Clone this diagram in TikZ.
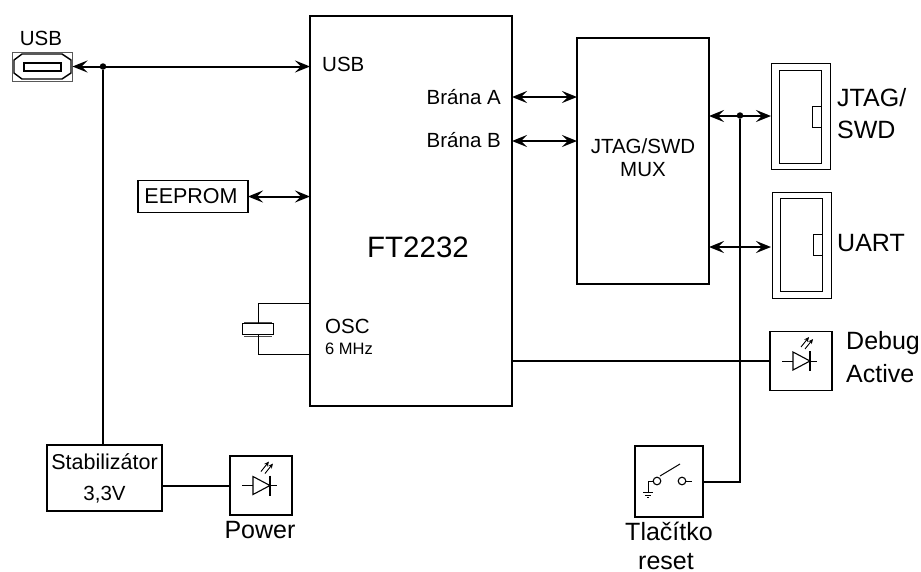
\documentclass[tikz,border=0pt]{standalone}
\usepackage{xcolor}
\usepackage{fontspec}
\setmainfont{Liberation Sans}
\usetikzlibrary{arrows.meta}

\begin{document}
\begin{tikzpicture}[x=1pt, y=-1pt,
  block/.style={rectangle, draw=black, line width=1.5pt, inner sep=0pt, outer sep=0pt},
  thinbox/.style={rectangle, draw=black, line width=0.9pt, inner sep=0pt, outer sep=0pt},
  dot/.style={circle, fill=black, inner sep=0pt, minimum size=6.5pt},
  lab/.style={inner sep=0pt, font=\fontsize{20.5}{20.5}\selectfont},
  pinlab/.style={inner sep=0pt, font=\fontsize{20.5}{20.5}\selectfont},
  widelab/.style={inner sep=0pt, font=\fontsize{21.5}{21.5}\selectfont},
  biglab/.style={inner sep=0pt, font=\fontsize{25}{25}\selectfont},
  wire/.style={draw, line width=2pt},
  bus/.style={draw, line width=2pt, {Stealth[length=15pt,width=12pt,inset=6pt]}-{Stealth[length=15pt,width=12pt,inset=6pt]}},
  thinwire/.style={draw, line width=1pt},
  ledsym/.pic={
    \draw[line width=1pt] (-19,0) -- (16,0);
    \draw[line width=1.1pt, fill=white] (-8,-9) -- (-8,9) -- (9,0) -- cycle;
    \draw[line width=1.1pt] (9,-10) -- (9,10);
    \draw[line width=0.9pt, -{Stealth[length=5pt,width=4.5pt]}] (0,-14) -- (8,-24);
    \draw[line width=0.9pt, -{Stealth[length=5pt,width=4.5pt]}] (4,-12) -- (12,-22);
  }]
\clip (0,0) rectangle (921,571);

% main blocks
\node[block, minimum width=202pt, minimum height=390pt] (ft) at (411,211) {};
\node[block, minimum width=132pt, minimum height=246pt] (mux) at (643,161) {};
\node[block, minimum width=110pt, minimum height=32pt, widelab] (eeprom) at (193,196.5) {\hspace{-4pt}EEPROM};
\node[block, minimum width=115pt, minimum height=66pt] (stab) at (104.5,478) {};
\node[block, minimum width=62pt, minimum height=59pt] (ledpower) at (261,485.5) {};
\node[block, minimum width=62pt, minimum height=59pt] (leddebug) at (801,361) {};
\node[block, minimum width=68pt, minimum height=71pt] (reset) at (669,481.5) {};

% connectors on the right
\node[thinbox, minimum width=59pt, minimum height=106pt] (jtag) at (800.5,116) {};
\node[thinbox, minimum width=42pt, minimum height=93pt] (jtagin) at (800.5,116.5) {};
\node[thinbox, minimum width=9pt, minimum height=21pt, anchor=east] (jtagkey) at (jtagin.east |- 0,116.5) {};
\node[thinbox, minimum width=59pt, minimum height=106pt] (uart) at (801.5,245) {};
\node[thinbox, minimum width=42pt, minimum height=93pt] (uartin) at (801.5,244.5) {};
\node[thinbox, minimum width=9pt, minimum height=21pt, anchor=east] (uartkey) at (uartin.east |- 0,245) {};

% usb socket
\node[thinbox, draw=black!65, minimum width=60pt, minimum height=29pt] (usbconn) at (42.5,66.5) {};
\draw[line width=1.4pt] (14,60) -- (22,54) -- (62,54) -- (71,60) -- (71,73) -- (62,79) -- (22,79) -- (14,73) -- cycle;
\draw[line width=1.4pt] (24,63) rectangle (61,71);

% crystal
\node[thinbox, minimum width=31pt, minimum height=11pt] (xtal) at (258,329) {};
\draw[line width=1pt, black!70] (244,322) -- (272,322);
\draw[line width=1pt, black!70] (244,336) -- (272,336);
\coordinate (osctop) at (ft.west |- 0,303);
\coordinate (oscbot) at (ft.west |- 0,354);

% led and switch symbols
\pic at (ledpower.center) {ledsym};
\pic at (leddebug.center) {ledsym};
\draw[line width=1.1pt] (657,481) circle (3.8);
\draw[line width=1.1pt] (682,481) circle (3.8);
\draw[line width=1pt] (660,476) -- (680,464);
\draw[line width=1pt] (653.2,481) -- (648,481) -- (648,492);
\draw[line width=1pt] (685.8,481) -- (692,481);
\draw[line width=1pt] (643,492) -- (653,492);
\draw[line width=1pt] (645,495) -- (651,495);
\draw[line width=1pt] (647,497.5) -- (649,497.5);

% texts
\node[lab] (usbtext) at (41,38) {USB};
\node[pinlab, anchor=west] (usbpin) at (322,64) {USB};
\node[pinlab, anchor=east] (branaa) at (501,97) {Brána A};
\node[pinlab, anchor=east] (branab) at (501,140) {Brána B};
\node[inner sep=0pt, font=\fontsize{29.5}{29.5}\selectfont] (fttext) at (418,247) {FT2232};
\node[pinlab, anchor=west] (osctext) at (325,326) {OSC};
\node[inner sep=0pt, anchor=west, font=\fontsize{16.5}{16.5}\selectfont] (freq) at (325,349) {6 MHz};
\node[pinlab] (muxa) at (643,146) {JTAG/SWD};
\node[pinlab] (muxb) at (643,170) {MUX};
\node[biglab, anchor=west] (jtaga) at (837,98) {JTAG/};
\node[biglab, anchor=west] (jtagb) at (837,130) {SWD};
\node[biglab, anchor=west] (uarttext) at (837,243) {UART};
\node[biglab, anchor=west] (debuga) at (846,343) {Debug};
\node[biglab, anchor=west] (debugb) at (846,374) {Active};
\node[widelab] (staba) at (104.5,462) {Stabilizátor};
\node[pinlab] (stabb) at (104.5,495) {3,3V};
\node[biglab] (powertext) at (260,530) {Power};
\node[biglab] (tlacitko) at (669,531) {Tlačítko};
\node[biglab, anchor=base] (resettext) at (666,569.5) {reset};

% junctions
\node[dot] (usbdot) at (103,66.5) {};
\node[dot] (jtagdot) at (740,115.5) {};

\begin{scope}[every path/.style=bus]
\path (usbconn.east) -- (usbconn.east -| ft.west);
\path (ft.east |- 0,97) -- (mux.west |- 0,97);
\path (ft.east |- 0,141) -- (mux.west |- 0,141);
\path (eeprom.east) -- (eeprom.east -| ft.west);
\path (mux.east |- jtag.west) -- (jtag.west);
\path (mux.east |- 0,247) -- (jtag.west |- 0,247);
\end{scope}
\begin{scope}[every path/.style=wire]
\path (usbdot) -- (usbdot |- stab.north);
\path (jtagdot) |- (reset.east);
\path (ft.east |- leddebug.west) -- (leddebug.west);
\path (stab.east |- ledpower.west) -- (ledpower.west);
\end{scope}
\begin{scope}[every path/.style=thinwire]
\path (xtal.north) -- (xtal.north |- osctop) -- (osctop);
\path (xtal.south) -- (xtal.south |- oscbot) -- (oscbot);
\end{scope}
\end{tikzpicture}
\end{document}
